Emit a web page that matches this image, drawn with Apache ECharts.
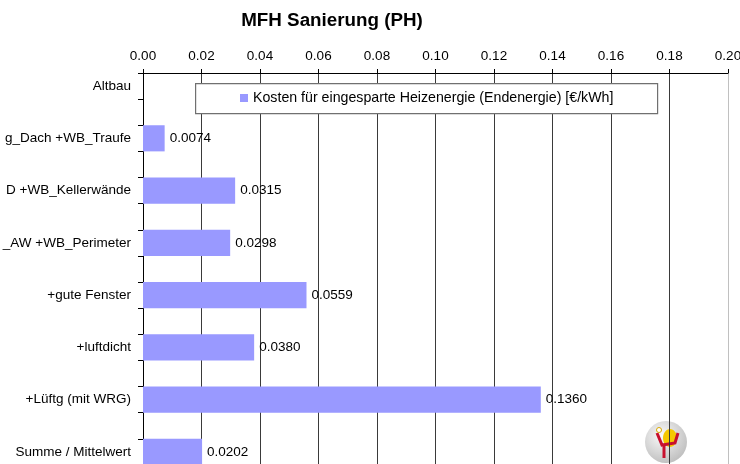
<!DOCTYPE html>
<html>
<head>
<meta charset="utf-8">
<script src="https://cdn.jsdelivr.net/npm/echarts@6/dist/echarts.min.js"></script>
<style>html,body{margin:0;padding:0;background:#fff;}#c{width:740px;height:464px;}</style>
</head>
<body>
<div id="c"></div>
<script>
var categories = ['Altbau', 'g_Dach +WB_Traufe', 'D +WB_Kellerwände', '_AW +WB_Perimeter', '+gute Fenster', '+luftdicht', '+Lüftg (mit WRG)', 'Summe / Mittelwert'];
var values = [null, 0.0074, 0.0315, 0.0298, 0.0559, 0.0380, 0.1360, 0.0202];
var seriesName = 'Kosten für eingesparte Heizenergie (Endenergie) [€/kWh]';
var titleText = 'MFH Sanierung (PH)';

// each category occupies a labelled slot followed by an empty slot (as in the original sheet)
var cats16 = [], vals16 = [];
categories.forEach(function (c, i) {
  cats16.push(c); vals16.push(values[i]);
  cats16.push(''); vals16.push(null);
});

var FONT = 'Liberation Sans, Arial, sans-serif';
var gridColors = [];
for (var i = 0; i < 10; i++) gridColors.push('#3a3a3a');
gridColors.push('#c0c0c0');

var chart = echarts.init(document.getElementById('c'));
chart.setOption({
  animation: false,
  backgroundColor: '#fff',
  title: {
    text: titleText, left: 327, top: 6, textAlign: 'center',
    textStyle: { fontFamily: FONT, fontSize: 18.8, fontWeight: 'bold', color: '#000' }
  },
  legend: {
    data: [seriesName], left: 240, top: 91, padding: 0, z: 20,
    icon: 'rect', itemWidth: 8, itemHeight: 8,
    textStyle: { fontFamily: FONT, fontSize: 14.2, color: '#000', lineHeight: 14 }
  },
  grid: { left: 143, top: 73, width: 585, height: 418, containLabel: false, outerBoundsMode: 'none' },
  xAxis: {
    type: 'value', position: 'top', min: 0, max: 0.2, interval: 0.02,
    axisLine: { show: true, lineStyle: { color: '#000', width: 1 } },
    axisTick: { show: true, length: 4, lineStyle: { color: '#000' } },
    axisLabel: { fontFamily: FONT, fontSize: 13.5, color: '#000', margin: 10,
      formatter: function (v) { return v.toFixed(2); } },
    splitLine: { show: true, lineStyle: { color: gridColors, width: 1 } }
  },
  yAxis: {
    type: 'category', inverse: true, data: cats16,
    axisLine: { show: true, lineStyle: { color: '#000', width: 1 } },
    axisTick: { show: true, length: 5, lineStyle: { color: '#000' } },
    axisLabel: { interval: 0, fontFamily: FONT, fontSize: 13.5, color: '#000', margin: 12,
      verticalAlign: 'middle' },
    splitLine: { show: false }
  },
  series: [{
    name: seriesName, type: 'bar', data: vals16,
    barCategoryGap: '0%',
    itemStyle: { color: '#9999ff' },
    label: { show: true, position: 'right', distance: 5, fontFamily: FONT, fontSize: 13.5, color: '#000',
      formatter: function (p) { return p.value == null ? '' : p.value.toFixed(4); } }
  }],
  graphic: [
    { type: 'rect', left: 195, top: 83, z: 5,
      shape: { width: 462, height: 30 },
      style: { fill: '#fff', stroke: '#707070', lineWidth: 1.2 } },
    { type: 'group', left: 645, top: 421, z: 10, children: [
      { type: 'circle', shape: { cx: 21, cy: 21, r: 21 },
        style: { fill: new echarts.graphic.RadialGradient(0.4, 0.35, 0.7, [
          { offset: 0, color: '#fafafa' }, { offset: 1, color: '#bdbdbd' }]) } },
      { type: 'ellipse', shape: { cx: 25, cy: 17, rx: 7, ry: 9 }, style: { fill: '#f5c800' } },
      { type: 'polyline', shape: { points: [[12, 12], [17, 24], [30, 22], [33, 12]] },
        style: { stroke: '#c8102e', lineWidth: 3, fill: null } },
      { type: 'line', shape: { x1: 19, y1: 24, x2: 19, y2: 37 }, style: { stroke: '#c8102e', lineWidth: 3 } },
      { type: 'circle', shape: { cx: 14, cy: 9, r: 2.5 }, style: { fill: '#fff', stroke: '#d9a800', lineWidth: 1 } }
    ] }
  ]
});
</script>
</body>
</html>
